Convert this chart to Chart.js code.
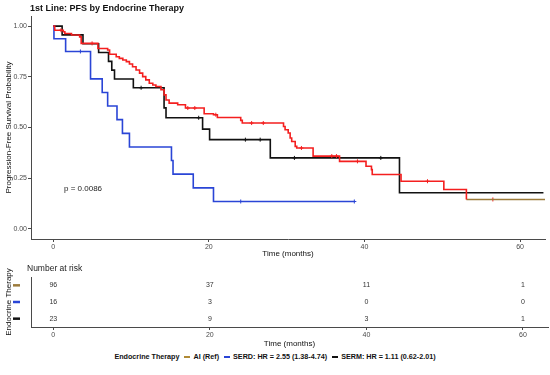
<!DOCTYPE html>
<html>
<head>
<meta charset="utf-8">
<script src="https://cdn.jsdelivr.net/npm/chart.js@4.4.1/dist/chart.umd.min.js"></script>
<style>
    body { margin: 0; background: #fff; font-family: "Liberation Sans", Arial, sans-serif; }
    #wrap { position: relative; width: 550px; height: 375px; overflow: hidden; }
    #km { position: absolute; left: 0; top: 0; }
    #risk { position: absolute; left: 0; top: 262px; }
    .txt { position: absolute; white-space: nowrap; color: #111; line-height: 1; }
    #legend { position: absolute; left: 0; width: 550px; top: 352px; display: flex; justify-content: center;
              align-items: center; font-size: 7.2px; font-weight: bold; color: #111; }
    #legend .key { display: inline-block; width: 6px; height: 2px; margin: 0 3px 0 5px; }
</style>
</head>
<body>
<div id="wrap">
    <canvas id="km" width="550" height="262"></canvas>
    <canvas id="risk" width="550" height="90"></canvas>
    <div class="txt" style="left:30px; top:4px; font-size:9px; font-weight:bold;">1st Line: PFS by Endocrine Therapy</div>
    <div class="txt" style="left:64px; top:185px; font-size:8px; color:#222;">p = 0.0086</div>
    <div class="txt" style="left:27px; top:264px; font-size:8.5px; color:#222;">Number at risk</div>
    <div id="legend">
        <span>Endocrine Therapy</span>
        <span class="key" style="background:#b08a35"></span><span>AI (Ref)</span>
        <span class="key" style="background:#2a45d6"></span><span>SERD: HR = 2.55 (1.38-4.74)</span>
        <span class="key" style="background:#111"></span><span>SERM: HR = 1.11 (0.62-2.01)</span>
    </div>
</div>
<script>
// Kaplan-Meier steps: time (months) and survival after each drop
const aiTime = [0, 0.2, 1.3, 1.5, 2.35, 3.4, 3.6, 5.75, 7.0, 7.25, 8.1, 8.5, 8.95, 9.4, 9.8, 10.2, 10.65, 11.1,
    11.5, 11.9, 12.35, 12.8, 13.2, 13.85, 14.25, 14.5, 14.9, 16.0, 17.0, 19.4, 20.6, 21.1, 24.1, 24.3, 29.6, 29.8,
    30.2, 30.45, 30.65, 31.1, 31.3, 33.4, 36.8, 40.2, 40.9, 41.0, 44.7, 50.2, 53.1, 63.2];
const aiSurv = [1, 0.98, 0.972, 0.964, 0.956, 0.947, 0.915, 0.89, 0.882, 0.861, 0.849, 0.841, 0.833, 0.825, 0.813,
    0.8, 0.784, 0.768, 0.751, 0.735, 0.718, 0.71, 0.702, 0.686, 0.661, 0.636, 0.62, 0.612, 0.596, 0.568, 0.563,
    0.549, 0.535, 0.522, 0.505, 0.489, 0.473, 0.448, 0.431, 0.407, 0.399, 0.359, 0.333, 0.309, 0.292, 0.268,
    0.235, 0.194, 0.145, 0.145];
const serdTime = [0, 0.1, 1.6, 4.8, 6.3, 7.0, 8.2, 8.9, 9.8, 15.2, 15.4, 18.0, 20.6, 38.7];
const serdSurv = [1, 0.9375, 0.875, 0.74, 0.673, 0.606, 0.539, 0.471, 0.404, 0.337, 0.27, 0.202, 0.135, 0.135];
const sermTime = [0, 1.15, 3.83, 5.84, 7.11, 7.53, 7.88, 10.3, 14.25, 14.5, 19.2, 20.1, 27.9, 44.5, 63.0];
const sermSurv = [1, 0.957, 0.913, 0.87, 0.826, 0.783, 0.739, 0.696, 0.597, 0.548, 0.492, 0.44, 0.35, 0.178, 0.178];

// censored observations (+ marks)
const aiCensTime = [1.0, 5.0, 17.3, 18.2, 20.9, 25.5, 27.0, 31.9, 35.8, 36.4, 39.1, 48.1, 56.5];
const aiCensSurv = [0.98, 0.915, 0.596, 0.596, 0.563, 0.522, 0.522, 0.399, 0.359, 0.359, 0.333, 0.235, 0.145];
const serdCensTime = [3.5, 24.1, 38.7];
const serdCensSurv = [0.875, 0.135, 0.135];
const sermCensTime = [11.3, 18.7, 24.7, 26.6, 31.0, 42.1];
const sermCensSurv = [0.696, 0.548, 0.44, 0.44, 0.35, 0.35];

// number at risk table
const riskTimes = [0, 20, 40, 60];
const aiRisk = [96, 37, 11, 1];
const serdRisk = [16, 3, 0, 0];
const sermRisk = [23, 9, 3, 1];

const xTicks = [0, 20, 40, 60];
const yTicks = [0, 0.25, 0.5, 0.75, 1];

const RED = '#f41f1f';
const BROWN = '#9c7b3c';
const BLUE = '#2a45d6';
const BLACK = '#111111';
const AXIS = '#4a4a4a';

function pts(xs, ys) {
    return xs.map((x, i) => ({ x: x, y: ys[i] }));
}

function curve(data, color) {
    return { data: data, showLine: true, stepped: true, borderColor: color, borderWidth: 1.6,
             pointRadius: 0, fill: false };
}

function marks(data, color) {
    return { data: data, showLine: false, pointStyle: 'cross', pointRadius: 2, borderWidth: 1,
             borderColor: color, backgroundColor: color };
}

const aiPts = pts(aiTime, aiSurv);
const tailStart = aiPts.length - 2;  // last stretch of the AI curve is drawn in the darker tone

new Chart(document.getElementById('km'), {
    type: 'scatter',
    data: {
        datasets: [
            curve(aiPts.slice(0, tailStart + 1), RED),
            curve(aiPts.slice(tailStart), BROWN),
            marks(pts(aiCensTime, aiCensSurv), RED),
            curve(pts(serdTime, serdSurv), BLUE),
            marks(pts(serdCensTime, serdCensSurv), BLUE),
            curve(pts(sermTime, sermSurv), BLACK),
            marks(pts(sermCensTime, sermCensSurv), BLACK)
        ]
    },
    options: {
        responsive: false,
        animation: false,
        layout: { padding: { top: 16, right: 2, left: 0, bottom: 0 } },
        plugins: { legend: { display: false }, tooltip: { enabled: false } },
        scales: {
            x: {
                type: 'linear', min: -2.85, max: 63.2,
                afterBuildTicks: s => { s.ticks = xTicks.map(v => ({ value: v })); },
                afterFit: s => { s.height = 23; },
                ticks: { font: { size: 7 }, color: AXIS, padding: 1, maxRotation: 0 },
                grid: { drawOnChartArea: false, tickLength: 3, color: AXIS },
                border: { color: AXIS, width: 1 },
                title: { display: true, text: 'Time (months)', color: '#111', font: { size: 8 },
                         padding: { top: 0, bottom: 3 } }
            },
            y: {
                min: -0.05, max: 1.05,
                afterBuildTicks: s => { s.ticks = yTicks.map(v => ({ value: v })); },
                afterFit: s => { s.width = 31; },
                ticks: { font: { size: 7 }, color: AXIS, padding: 1, callback: v => v.toFixed(2) },
                grid: { drawOnChartArea: false, tickLength: 3, color: AXIS },
                border: { color: AXIS, width: 1 },
                title: { display: true, text: 'Progression-Free Survival Probability', color: '#111',
                         font: { size: 8 }, padding: { top: 4, bottom: 0 } }
            }
        }
    }
});

// risk table: one row per therapy, numbers written at the scale positions
const riskRows = [
    { counts: aiRisk, color: BROWN },
    { counts: serdRisk, color: BLUE },
    { counts: sermRisk, color: BLACK }
];

const riskText = {
    id: 'riskText',
    afterDatasetsDraw(chart) {
        const ctx = chart.ctx;
        const yScale = chart.scales.y;
        ctx.save();
        ctx.font = '7px "Liberation Sans", Arial, sans-serif';
        ctx.fillStyle = '#333';
        ctx.textAlign = 'center';
        ctx.textBaseline = 'middle';
        chart.data.datasets.forEach((ds, di) => {
            const meta = chart.getDatasetMeta(di);
            meta.data.forEach((el, i) => {
                ctx.fillText(String(ds.data[i].n), el.x, el.y);
            });
            // coloured key in place of the row label
            const y = yScale.getPixelForValue(di + 1);
            ctx.strokeStyle = riskRows[di].color;
            ctx.lineWidth = 2.5;
            ctx.beginPath();
            ctx.moveTo(13, y);
            ctx.lineTo(20, y);
            ctx.stroke();
        });
        ctx.restore();
    }
};

new Chart(document.getElementById('risk'), {
    type: 'scatter',
    data: {
        datasets: riskRows.map((row, r) => ({
            data: riskTimes.map((t, i) => ({ x: t, y: r + 1, n: row.counts[i] })),
            pointRadius: 0
        }))
    },
    options: {
        responsive: false,
        animation: false,
        layout: { padding: { top: 15, right: 2, left: 0, bottom: 0 } },
        plugins: { legend: { display: false }, tooltip: { enabled: false } },
        scales: {
            x: {
                type: 'linear', min: -2.85, max: 63.2,
                afterBuildTicks: s => { s.ticks = xTicks.map(v => ({ value: v })); },
                afterFit: s => { s.height = 25; },
                ticks: { font: { size: 7 }, color: AXIS, padding: 1, maxRotation: 0 },
                grid: { drawOnChartArea: false, tickLength: 3, color: AXIS },
                border: { color: AXIS, width: 1 },
                title: { display: true, text: 'Time (months)', color: '#111', font: { size: 8 },
                         padding: { top: 0, bottom: 3 } }
            },
            y: {
                min: 0.5, max: 3.5, reverse: true,
                afterBuildTicks: s => { s.ticks = [1, 2, 3].map(v => ({ value: v })); },
                afterFit: s => { s.width = 31; },
                ticks: { display: false },
                grid: { drawOnChartArea: false, drawTicks: false },
                border: { color: AXIS, width: 1 },
                title: { display: true, text: 'Endocrine Therapy', color: '#111', font: { size: 8 },
                         padding: { top: 4, bottom: 0 } }
            }
        }
    },
    plugins: [riskText]
});
</script>
</body>
</html>
